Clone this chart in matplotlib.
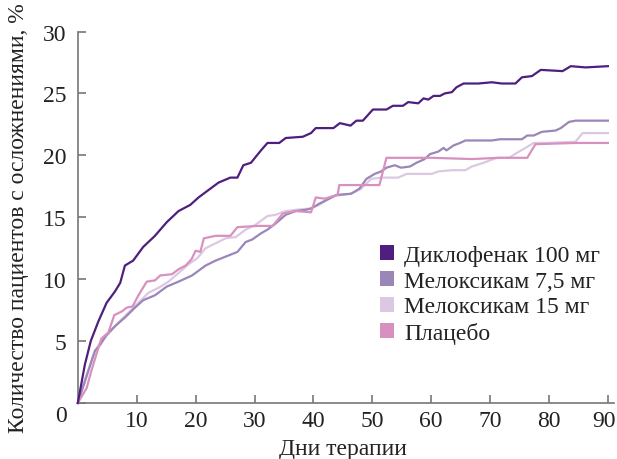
import matplotlib
matplotlib.use("Agg")
import matplotlib.pyplot as plt
from matplotlib.patches import Patch
from matplotlib.transforms import ScaledTranslation

plt.rcParams['font.family'] = ['Liberation Serif', 'DejaVu Serif']

series_names = ["Диклофенак 100 мг", "Мелоксикам 7,5 мг", "Мелоксикам 15 мг", "Плацебо"]
colors = ["#4E1F7F", "#9B86B8", "#DCC8E2", "#D891BF"]

diclo_days = [0, 1.2, 2.2, 3.5, 4.9, 6.3, 7.2, 8.0, 9.4, 11.1, 13.1, 15.1, 17.1, 19.1, 20.5,
              22.2, 23.9, 25.9, 27.1, 28.1, 29.4, 31.1, 32.2, 34.2, 35.3, 38.2, 39.6, 40.4,
              43.4, 44.5, 46.3, 47.3, 48.4, 50.1, 52.4, 53.5, 55.2, 56.1, 57.8, 58.7, 59.5,
              60.4, 61.5, 62.3, 63.5, 64.3, 65.5, 68.0, 70.3, 72.0, 74.3, 75.4, 77.1, 78.6,
              82.3, 83.7, 86.2, 90.0]
diclo_vals = [0, 3.1, 5.0, 6.6, 8.1, 9.0, 9.7, 11.1, 11.5, 12.6, 13.5, 14.6, 15.5, 16.0, 16.6,
              17.2, 17.8, 18.2, 18.2, 19.2, 19.4, 20.4, 21.0, 21.0, 21.4, 21.5, 21.8, 22.2,
              22.2, 22.6, 22.4, 22.8, 22.8, 23.7, 23.7, 24.0, 24.0, 24.3, 24.2, 24.6, 24.5,
              24.8, 24.8, 25.0, 25.1, 25.5, 25.8, 25.8, 25.9, 25.8, 25.8, 26.3, 26.4, 26.9,
              26.8, 27.2, 27.1, 27.2]

melo75_days = [0, 1.8, 2.9, 3.8, 4.9, 6.3, 8.0, 9.7, 11.1, 13.1, 15.1, 17.1, 19.4, 21.7, 23.4,
               27.1, 28.5, 29.6, 31.1, 32.2, 33.6, 35.3, 37.0, 38.7, 39.6, 41.0, 42.7, 43.9,
               46.4, 47.8, 49.0, 50.4, 51.5, 52.4, 53.8, 54.9, 56.4, 57.5, 58.9, 59.8, 61.2,
               62.1, 62.6, 63.8, 64.9, 65.8, 70.3, 71.7, 75.4, 76.3, 77.4, 78.8, 81.1, 82.0,
               83.4, 84.5, 90.0]
melo75_vals = [0, 2.6, 4.2, 4.7, 5.5, 6.2, 6.9, 7.7, 8.3, 8.7, 9.4, 9.8, 10.3, 11.1, 11.5,
               12.2, 13.0, 13.2, 13.7, 14.0, 14.5, 15.2, 15.5, 15.6, 15.7, 16.1, 16.5, 16.8,
               16.9, 17.3, 18.1, 18.5, 18.7, 19.0, 19.2, 19.0, 19.1, 19.4, 19.7, 20.1, 20.3,
               20.6, 20.4, 20.8, 21.0, 21.2, 21.2, 21.3, 21.3, 21.6, 21.6, 21.9, 22.0, 22.2,
               22.7, 22.8, 22.8]

melo15_days = [0, 1.5, 2.9, 4.0, 5.2, 6.9, 8.6, 10.3, 12.0, 13.7, 15.4, 17.1, 18.8, 20.3, 21.7,
               23.4, 25.1, 26.8, 28.5, 30.2, 32.2, 33.6, 35.3, 37.0, 39.3, 41.0, 43.2, 46.4,
               48.1, 49.8, 51.5, 54.4, 55.8, 57.8, 60.1, 61.2, 63.5, 65.8, 66.9, 68.9, 70.0,
               71.2, 73.2, 74.9, 76.0, 77.4, 79.7, 84.5, 85.7, 90.0]
melo15_vals = [0, 2.3, 4.2, 5.0, 5.6, 6.5, 7.3, 8.1, 8.9, 9.3, 9.8, 10.5, 11.2, 11.7, 12.5,
               12.9, 13.3, 13.4, 14.0, 14.4, 15.1, 15.2, 15.5, 15.6, 15.7, 16.0, 16.7, 16.9,
               17.3, 18.1, 18.2, 18.2, 18.5, 18.5, 18.5, 18.7, 18.8, 18.8, 19.1, 19.4, 19.6,
               19.8, 19.8, 20.3, 20.6, 21.0, 21.0, 21.1, 21.8, 21.8]

placebo_days = [0, 1.5, 2.3, 3.2, 4.0, 5.2, 6.2, 7.5, 8.3, 9.3, 10.3, 11.7, 13.1, 14.0, 16.0,
                17.1, 18.3, 19.3, 20.0, 20.8, 21.4, 23.4, 25.9, 27.1, 30.5, 33.1, 34.8, 37.0,
                39.6, 40.4, 41.9, 44.1, 44.4, 48.1, 51.2, 52.4, 55.5, 60.1, 66.9, 71.4, 76.3,
                77.7, 84.5, 90.0]
placebo_vals = [0, 1.2, 2.6, 4.0, 5.2, 5.7, 7.1, 7.4, 7.7, 7.8, 8.7, 9.8, 9.9, 10.3, 10.4,
                10.8, 11.1, 11.6, 12.3, 12.2, 13.3, 13.5, 13.5, 14.2, 14.3, 14.3, 15.3, 15.5,
                15.4, 16.6, 16.5, 16.8, 17.6, 17.6, 17.6, 19.8, 19.8, 19.8, 19.7, 19.8, 19.8,
                20.9, 21.0, 21.0]

x_ticks = [10, 20, 30, 40, 50, 60, 70, 80, 90]
y_ticks = [0, 5, 10, 15, 20, 25, 30]
x_label = "Дни терапии"
y_label = "Количество пациентов с осложнениями, %"

fig = plt.figure(figsize=(6.17, 4.60), dpi=100)
ax = fig.add_axes([77.8 / 617, 56 / 460, (613.8 - 77.8) / 617, (404 - 32.5) / 460])

data = [(diclo_days, diclo_vals), (melo75_days, melo75_vals),
        (melo15_days, melo15_vals), (placebo_days, placebo_vals)]
zorders = [5, 3, 2, 4]
for (d, v), c, z in zip(data, colors, zorders):
    ax.plot(d, v, color=c, lw=1.6, solid_joinstyle='round', zorder=z, clip_on=False)

ax.set_xlim(0, 91)
ax.set_ylim(0, 30)
ax.set_xticks(x_ticks)
ax.set_yticks(y_ticks)
for s in ['top', 'right']:
    ax.spines[s].set_visible(False)
for s in ['left', 'bottom']:
    ax.spines[s].set_color('#777777')
    ax.spines[s].set_linewidth(1.2)
ax.tick_params(direction='in', length=6, width=1.2, color='#777777',
               labelsize=17, labelcolor='#222222')
ax.tick_params(axis='y', pad=8)
ax.tick_params(axis='x', pad=5)

# the "0" label sits a little lower than its tick in the reference
zero_lbl = ax.yaxis.get_major_ticks()[0].label1
zero_lbl.set_transform(zero_lbl.get_transform() +
                       ScaledTranslation(0, -10 / 100, fig.dpi_scale_trans))
# keep the last x label inside the picture
last_lbl = ax.xaxis.get_major_ticks()[-1].label1
last_lbl.set_transform(last_lbl.get_transform() +
                       ScaledTranslation(-4 / 100, 0, fig.dpi_scale_trans))

fig.text(343 / 617, 1 - 450 / 460, x_label, fontsize=17, color='#222222',
         ha='center', va='center')
fig.text(19 / 617, 1 - 218 / 460, y_label, rotation=90, fontsize=17,
         color='#222222', ha='center', va='center')

handles = [Patch(facecolor=c, edgecolor='none') for c in colors]
leg = ax.legend(handles, series_names, loc='upper left',
                bbox_to_anchor=(380 / 617, 1 - 246 / 460), bbox_transform=fig.transFigure,
                frameon=False, fontsize=17, handlelength=0.6, handleheight=0.6,
                handletextpad=0.42, labelspacing=0.2, borderpad=0, borderaxespad=0)
for t in leg.get_texts():
    t.set_color('#222222')

fig.savefig("out.png", dpi=100)
